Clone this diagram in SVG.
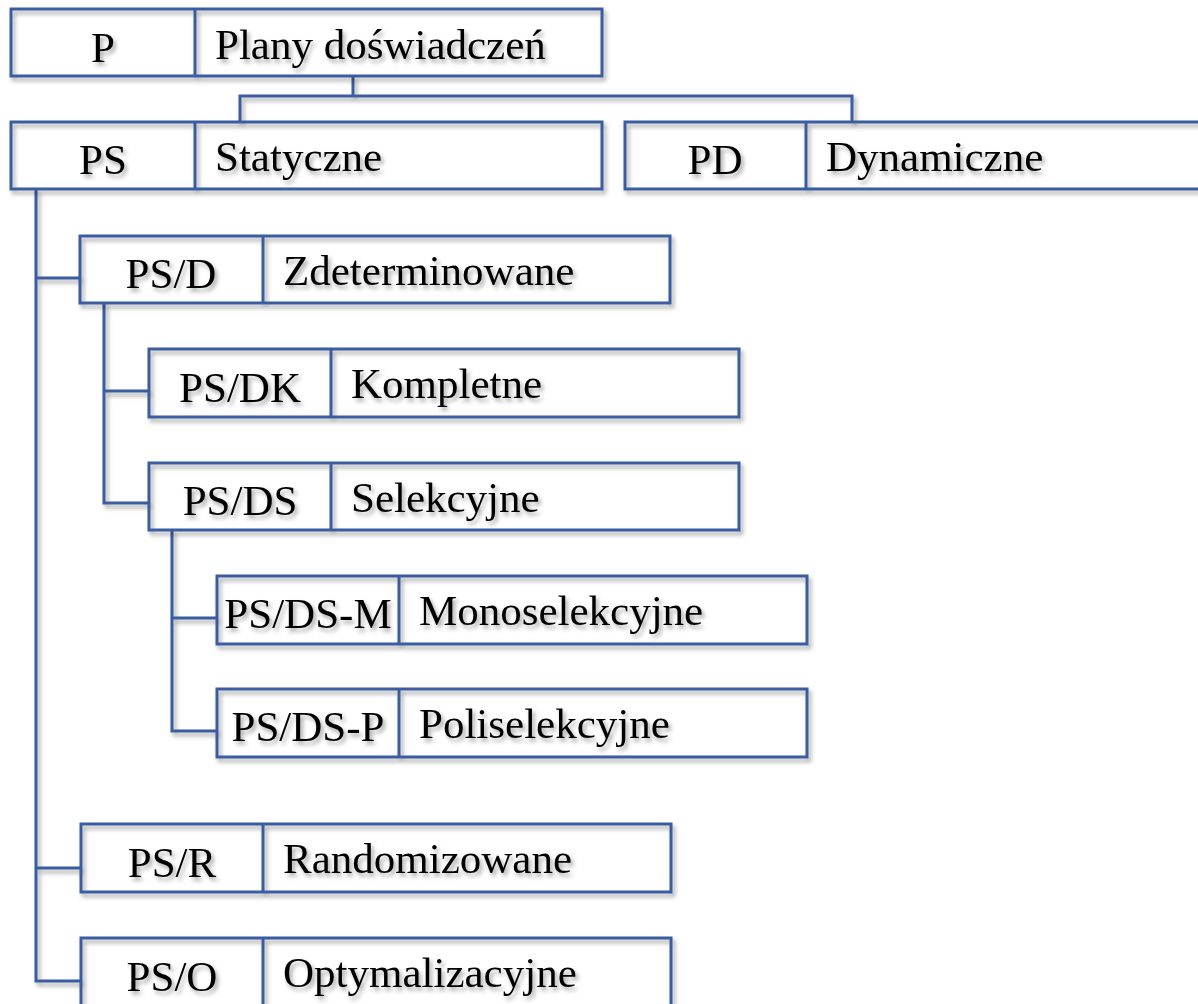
<svg xmlns="http://www.w3.org/2000/svg" width="1198" height="1004" viewBox="0 0 1198 1004">
<defs>
<filter id="sh" x="-10%" y="-20%" width="130%" height="160%">
<feDropShadow dx="2.5" dy="3.5" stdDeviation="2" flood-color="#000" flood-opacity="0.35"/>
</filter>
<style>
.b{fill:none;stroke:#3A5DA0;stroke-width:3}
.c{fill:none;stroke:#3A5DA0;stroke-width:3}
.t{font-family:"Liberation Serif","Times New Roman",serif;font-size:43px;fill:#000}
.m{text-anchor:middle}
</style>
</defs>
<rect width="1198" height="1004" fill="#fff"/>
<g id="connectors" filter="url(#sh)">
<path class="c" d="M353,76 V96 M240,122 V96 H852 V122"/>
<path class="c" d="M36,189 V981 H81 M36,278 H80 M36,868 H81"/>
<path class="c" d="M104,303 V503 H149 M104,391 H149"/>
<path class="c" d="M172,530 V731 H217 M172,618 H217"/>
</g>
<g id="P" filter="url(#sh)">
<rect class="b" x="11" y="9" width="591" height="67"/><path class="b" d="M195,9 V76"/>
<text class="t m" x="103" y="62">P</text><text class="t" x="215" y="59">Plany doświadczeń</text>
</g>
<g id="PS" filter="url(#sh)">
<rect class="b" x="11" y="122" width="591" height="67"/><path class="b" d="M195,122 V189"/>
<text class="t m" x="103" y="174">PS</text><text class="t" x="215" y="171">Statyczne</text>
</g>
<g id="PD" filter="url(#sh)">
<rect class="b" x="625" y="122" width="610" height="67"/><path class="b" d="M806,122 V189"/>
<text class="t m" x="715" y="174">PD</text><text class="t" x="826" y="171">Dynamiczne</text>
</g>
<g id="PS-D" filter="url(#sh)">
<rect class="b" x="80" y="236" width="590" height="67"/><path class="b" d="M263,236 V303"/>
<text class="t m" x="171" y="288">PS/D</text><text class="t" x="283" y="285">Zdeterminowane</text>
</g>
<g id="PS-DK" filter="url(#sh)">
<rect class="b" x="149" y="349" width="590" height="68"/><path class="b" d="M331,349 V417"/>
<text class="t m" x="240" y="402">PS/DK</text><text class="t" x="351" y="398">Kompletne</text>
</g>
<g id="PS-DS" filter="url(#sh)">
<rect class="b" x="149" y="463" width="590" height="67"/><path class="b" d="M331,463 V530"/>
<text class="t m" x="240" y="515">PS/DS</text><text class="t" x="351" y="512">Selekcyjne</text>
</g>
<g id="PS-DS-M" filter="url(#sh)">
<rect class="b" x="217" y="576" width="590" height="68"/><path class="b" d="M399,576 V644"/>
<text class="t m" x="308" y="628">PS/DS-M</text><text class="t" x="419" y="625">Monoselekcyjne</text>
</g>
<g id="PS-DS-P" filter="url(#sh)">
<rect class="b" x="217" y="689" width="590" height="68"/><path class="b" d="M399,689 V757"/>
<text class="t m" x="308" y="741">PS/DS-P</text><text class="t" x="419" y="738">Poliselekcyjne</text>
</g>
<g id="PS-R" filter="url(#sh)">
<rect class="b" x="81" y="824" width="590" height="68"/><path class="b" d="M263,824 V892"/>
<text class="t m" x="172" y="877">PS/R</text><text class="t" x="283" y="873">Randomizowane</text>
</g>
<g id="PS-O" filter="url(#sh)">
<rect class="b" x="81" y="938" width="590" height="68"/><path class="b" d="M263,938 V1006"/>
<text class="t m" x="172" y="991">PS/O</text><text class="t" x="283" y="987">Optymalizacyjne</text>
</g>
</svg>
